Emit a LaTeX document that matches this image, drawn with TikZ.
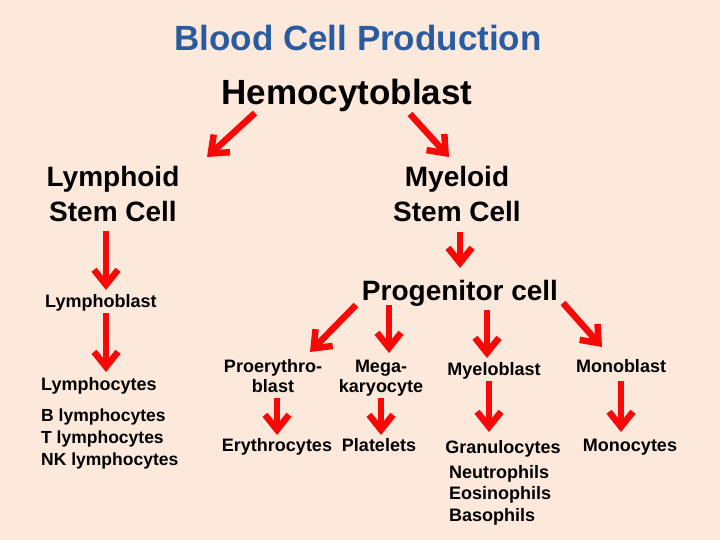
\documentclass[tikz,border=0pt]{standalone}
\usepackage{fontspec}
\setmainfont{Liberation Sans}
\usetikzlibrary{arrows.meta}
\definecolor{bgpeach}{RGB}{252,233,219}
\definecolor{titleblue}{RGB}{41,91,160}
\definecolor{arrowred}{RGB}{250,8,8}
\begin{document}
\begin{tikzpicture}[x=1pt,y=-1pt,
  lbl/.style={inner sep=0pt,anchor=base,font=\bfseries,text=black},
  big/.style={lbl,font=\fontsize{28}{35}\selectfont\bfseries,align=center},
  small/.style={lbl,font=\fontsize{18}{20}\selectfont\bfseries},
  redarrow/.style={draw=arrowred,line width=6.5pt,
    -{Straight Barb[length=15pt,width=24pt,line width=6.5pt]}}]
\fill[bgpeach] (0,0) rectangle (720,540);
\useasboundingbox (0,0) rectangle (720,540);
% texts (multi-line nodes: base = baseline of last line)
\node[lbl,font=\fontsize{35}{42}\selectfont\bfseries,text=titleblue] (title) at (358,51) {Blood Cell Production};
\node[lbl,font=\fontsize{35}{42}\selectfont\bfseries] (hemo) at (347,105) {Hemocytoblast};
\node[big] (lymphoid) at (113,222) {Lymphoid\\Stem Cell};
\node[big] (myeloid) at (457,222) {Myeloid\\Stem Cell};
\node[lbl,font=\fontsize{28}{35}\selectfont\bfseries] (progen) at (460,300) {Progenitor cell};
\node[small,anchor=base west] (lymphoblast) at (45,307) {Lymphoblast};
\node[small,anchor=base west] (lymphocytes) at (41,390) {Lymphocytes};
\node[small,anchor=base west,align=left,font=\fontsize{17.5}{22}\selectfont\bfseries] (lymphtypes) at (41,465) {B lymphocytes\\T lymphocytes\\NK lymphocytes};
\node[small,align=center] (proery) at (273,392) {Proerythro-\\blast};
\node[small,align=center] (mega) at (381,392) {Mega-\\karyocyte};
\node[small] (myeloblast) at (494,375) {Myeloblast};
\node[small] (monoblast) at (621,372) {Monoblast};
\node[small] (erythro) at (277,451) {Erythrocytes};
\node[small] (platelets) at (379,451) {Platelets};
\node[small] (granulo) at (503,453) {Granulocytes};
\node[small,anchor=base west,align=left,font=\fontsize{18}{21.5}\selectfont\bfseries] (granutypes) at (449,521) {Neutrophils\\Eosinophils\\Basophils};
\node[small] (monocytes) at (630,451) {Monocytes};
% arrow end points
\coordinate (hL1) at (255,113); \coordinate (hL2) at (207,157);
\coordinate (hM1) at (410,114); \coordinate (hM2) at (449,157);
\coordinate (mP1) at (460,232); \coordinate (mP2) at (460,268);
\coordinate (lB1) at (106,231); \coordinate (lB2) at (106,290);
\coordinate (bC1) at (106,313); \coordinate (bC2) at (106,372);
\coordinate (pE1) at (356,305); \coordinate (pE2) at (310,352);
\coordinate (pK1) at (389,305); \coordinate (pK2) at (389,353);
\coordinate (pY1) at (487,310); \coordinate (pY2) at (487,358);
\coordinate (pO1) at (563,303); \coordinate (pO2) at (602,347);
\coordinate (eE1) at (277,398); \coordinate (eE2) at (277,435);
\coordinate (kP1) at (381,398); \coordinate (kP2) at (381,435);
\coordinate (yG1) at (489,381); \coordinate (yG2) at (489,432);
\coordinate (oM1) at (621,381); \coordinate (oM2) at (621,432);
% arrows
\foreach \s/\e in {hL1/hL2,hM1/hM2,mP1/mP2,lB1/lB2,bC1/bC2,pE1/pE2,pK1/pK2,pY1/pY2,pO1/pO2,eE1/eE2,kP1/kP2,yG1/yG2,oM1/oM2}
  \draw[redarrow] (\s) -- (\e);
\end{tikzpicture}
\end{document}
